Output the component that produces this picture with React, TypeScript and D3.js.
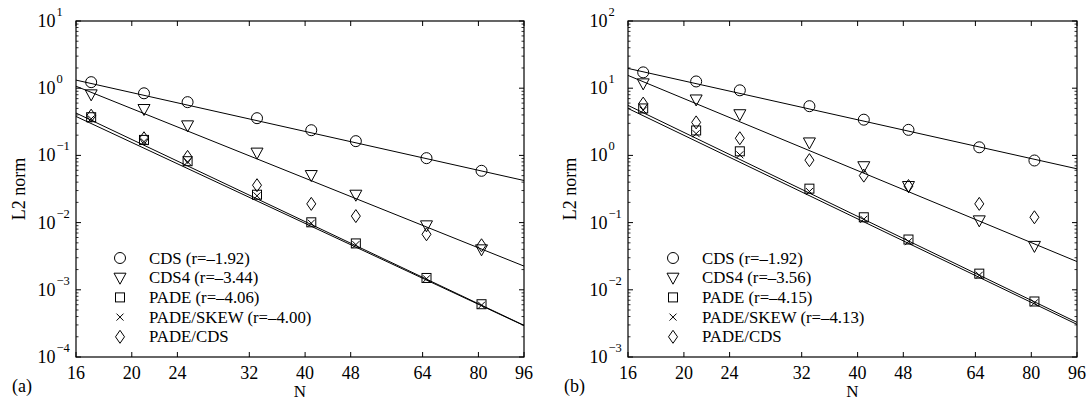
import React from "react";
import * as d3 from "d3";

const N = [17, 21, 25, 33, 41, 49, 65, 81];
const xTicks = [16, 20, 24, 32, 40, 48, 64, 80, 96];

// Panel (a)
const aCDS = [1.23, 0.84, 0.62, 0.358, 0.237, 0.163, 0.091, 0.059];
const aCDS4 = [0.81, 0.49, 0.28, 0.11, 0.051, 0.026, 0.0091, 0.004];
const aPADE = [0.37, 0.17, 0.082, 0.026, 0.0101, 0.0049, 0.0015, 0.00061];
const aSKEW = [0.35, 0.16, 0.08, 0.025, 0.0098, 0.0047, 0.00146, 0.00059];
const aPADECDS = [0.39, 0.18, 0.095, 0.036, 0.019, 0.0125, 0.0067, 0.0046];
const aFitSlope = [-1.92, -3.44, -4.06, -4.0];
const aFitAt16 = [1.32, 1.07, 0.427, 0.38];
const aLegend = ["CDS (r=–1.92)", "CDS4 (r=–3.44)", "PADE (r=–4.06)", "PADE/SKEW (r=–4.00)", "PADE/CDS"];
const aYExp = [-4, -3, -2, -1, 0, 1];

// Panel (b)
const bCDS = [17.2, 12.6, 9.3, 5.4, 3.4, 2.4, 1.32, 0.84];
const bCDS4 = [11.8, 6.8, 4.1, 1.56, 0.69, 0.35, 0.108, 0.045];
const bPADE = [5.0, 2.35, 1.15, 0.32, 0.12, 0.056, 0.0174, 0.0067];
const bSKEW = [4.7, 2.1, 1.02, 0.29, 0.112, 0.052, 0.0165, 0.0064];
const bPADECDS = [5.9, 3.1, 1.8, 0.85, 0.5, 0.35, 0.19, 0.12];
const bFitSlope = [-1.92, -3.56, -4.15, -4.13];
const bFitAt16 = [19.7, 15.5, 5.55, 5.0];
const bLegend = ["CDS (r=–1.92)", "CDS4 (r=–3.56)", "PADE (r=–4.15)", "PADE/SKEW (r=–4.13)", "PADE/CDS"];
const bYExp = [-3, -2, -1, 0, 1, 2];

const FONT = "'Liberation Serif', 'Times New Roman', serif";
const MARKERS = ["circle", "triangle", "square", "cross", "diamond"];

function Marker({ type, x, y }: { type: string; x: number; y: number }) {
  const s = { fill: "none", stroke: "#000", strokeWidth: 1 };
  if (type === "circle") return <circle cx={x} cy={y} r={5.5} {...s} />;
  if (type === "triangle")
    return <path d={`M${x - 6},${y - 4.5}L${x + 6},${y - 4.5}L${x},${y + 6.5}Z`} {...s} />;
  if (type === "square") return <rect x={x - 4.5} y={y - 4.5} width={9} height={9} {...s} />;
  if (type === "cross")
    return <path d={`M${x - 3.5},${y - 3.5}L${x + 3.5},${y + 3.5}M${x - 3.5},${y + 3.5}L${x + 3.5},${y - 3.5}`} {...s} />;
  return <path d={`M${x},${y - 6.5}L${x + 4.5},${y}L${x},${y + 6.5}L${x - 4.5},${y}Z`} {...s} />;
}

function Panel(props: {
  left: number; right: number; top: number; bottom: number;
  yExp: number[]; series: number[][]; fitSlope: number[]; fitAt16: number[];
  legend: string[]; label: string; legX: number; ylabX: number;
}) {
  const { left, right, top, bottom, yExp, series, fitSlope, fitAt16, legend, label, legX, ylabX } = props;
  const x = d3.scaleLog().domain([16, 96]).range([left, right]);
  const y = d3.scaleLog().domain([Math.pow(10, yExp[0]), Math.pow(10, yExp[yExp.length - 1])]).range([bottom, top]);
  const minor: number[] = [];
  for (let e = yExp[0]; e < yExp[yExp.length - 1]; e++) for (let m = 2; m <= 9; m++) minor.push(m * Math.pow(10, e));
  return (
    <g fontFamily={FONT}>
      {fitSlope.map((s, k) => {
        const pts = [16, 96].map((n) => [x(n), y(fitAt16[k] * Math.pow(n / 16, s))] as [number, number]);
        return <path key={k} d={d3.line()(pts) || ""} stroke="#000" strokeWidth={1} fill="none" />;
      })}
      {series.map((vals, k) =>
        vals.map((v, i) => <Marker key={`${k}-${i}`} type={MARKERS[k]} x={x(N[i])} y={y(v)} />)
      )}
      <rect x={left} y={top} width={right - left} height={bottom - top} fill="none" stroke="#000" strokeWidth={1.2} />
      {xTicks.map((t) => (
        <g key={t}>
          <line x1={x(t)} x2={x(t)} y1={bottom} y2={bottom - 5} stroke="#000" />
          <line x1={x(t)} x2={x(t)} y1={top} y2={top + 5} stroke="#000" />
          <text x={x(t)} y={bottom + 22} fontSize={18} textAnchor="middle">{t}</text>
        </g>
      ))}
      {yExp.map((e) => {
        const yy = y(Math.pow(10, e));
        return (
          <g key={e}>
            <line x1={left} x2={left + 5} y1={yy} y2={yy} stroke="#000" />
            <line x1={right} x2={right - 5} y1={yy} y2={yy} stroke="#000" />
            <text x={left - 20.5} y={yy + 6} fontSize={18} textAnchor="end">10</text>
            <text x={left - 19.5} y={yy - 5} fontSize={12.5} textAnchor="start">{e < 0 ? `\u2212${-e}` : `${e}`}</text>
          </g>
        );
      })}
      {minor.map((m, i) => {
        const yy = y(m);
        return (
          <g key={`m${i}`}>
            <line x1={left} x2={left + 2.5} y1={yy} y2={yy} stroke="#000" strokeWidth={0.8} />
            <line x1={right} x2={right - 2.5} y1={yy} y2={yy} stroke="#000" strokeWidth={0.8} />
          </g>
        );
      })}
      <text x={(left + right) / 2} y={bottom + 40} fontSize={17} textAnchor="middle">N</text>
      <text transform={`translate(${ylabX},${(top + bottom) / 2}) rotate(-90)`} fontSize={18} textAnchor="middle">L2 norm</text>
      <text x={left - 64} y={bottom + 35} fontSize={18}>{label}</text>
      {legend.map((t, k) => (
        <g key={t}>
          <Marker type={MARKERS[k]} x={legX} y={258 + k * 19.7} />
          <text x={legX + 29} y={258 + k * 19.7 + 5.5} fontSize={16.8}>{t}</text>
        </g>
      ))}
    </g>
  );
}

export default function App() {
  return (
    <svg width={1090} height={401} style={{ position: "absolute", left: 0, top: 0, background: "#fff" }}>
      <Panel left={76} right={524} top={21} bottom={357} yExp={aYExp}
        series={[aCDS, aCDS4, aPADE, aSKEW, aPADECDS]} fitSlope={aFitSlope} fitAt16={aFitAt16}
        legend={aLegend} label="(a)" legX={120} ylabX={25} />
      <Panel left={628} right={1077} top={21} bottom={357} yExp={bYExp}
        series={[bCDS, bCDS4, bPADE, bSKEW, bPADECDS]} fitSlope={bFitSlope} fitAt16={bFitAt16}
        legend={bLegend} label="(b)" legX={673} ylabX={576} />
    </svg>
  );
}
